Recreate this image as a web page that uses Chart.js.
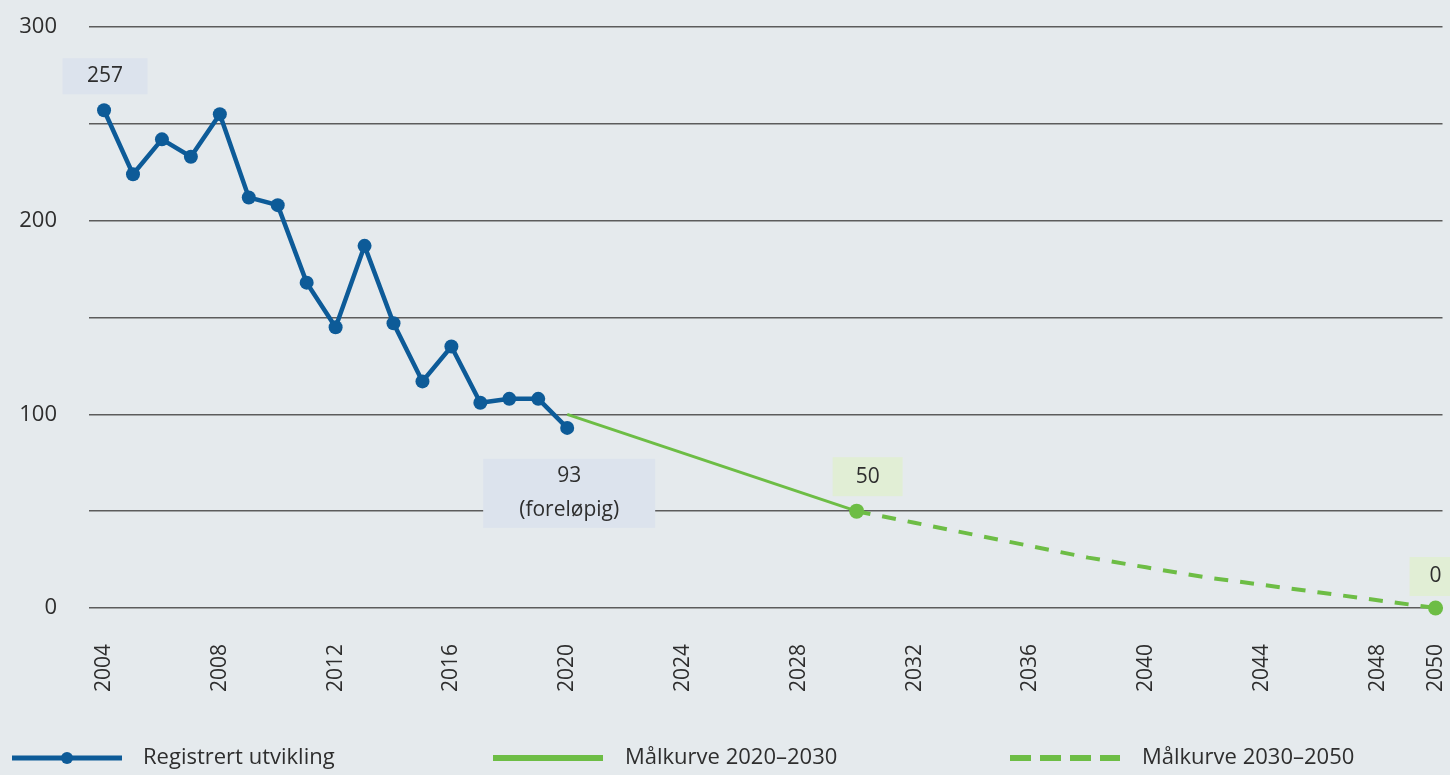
<!DOCTYPE html>
<html lang="no">
<head>
    <meta charset="UTF-8">
    <title>Registrert utvikling og målkurve</title>
    <script src="https://cdn.jsdelivr.net/npm/chart.js"></script>
    <style>
        body {
            margin: 0;
            padding: 0;
            background: #e5eaed;
        }
        .wrap {
            position: relative;
            width: 1450px;
            height: 775px;
        }
    </style>
</head>
<body>

<div class="wrap">
    <canvas id="myChart" width="1450" height="775"></canvas>
</div>

<script>
    // Registrert utvikling
    const years = [2004, 2005, 2006, 2007, 2008, 2009, 2010, 2011, 2012, 2013, 2014, 2015, 2016, 2017, 2018, 2019, 2020];
    const registered = [257, 224, 242, 233, 255, 212, 208, 168, 145, 187, 147, 117, 135, 106, 108, 108, 93];

    // Målkurve 2020-2030
    const targetYears1 = [2020, 2030];
    const targetValues1 = [100, 50];

    // Målkurve 2030-2050
    const targetYears2 = [2030, 2032, 2034, 2036, 2038, 2040, 2042, 2044, 2046, 2048, 2050];
    const targetValues2 = [50, 44, 38, 32, 26, 21, 16, 12, 8, 4, 0];

    const xTicks = [2004, 2008, 2012, 2016, 2020, 2024, 2028, 2032, 2036, 2040, 2044, 2048, 2050];
    const yTicks = [0, 100, 200, 300];

    const blue = '#0d5b98';
    const green = '#6dbd45';
    const textColor = '#2e2e2e';
    const font = "'Open Sans', sans-serif";

    const toXY = (xs, ys) => xs.map((x, i) => ({ x: x, y: ys[i] }));

    // Boxed value labels
    const valueLabels = {
        id: 'valueLabels',
        afterDatasetsDraw(chart) {
            const c = chart.ctx;
            const labels = [
                { ds: 0, idx: 0, lines: ['257'], bg: '#dce3ed', dx: 1, top: -52, w: 85, h: 36 },
                { ds: 0, idx: registered.length - 1, lines: ['93', '(foreløpig)'], bg: '#dce3ed', dx: 2, top: 31, w: 172, h: 69 },
                { ds: 1, idx: 1, lines: ['50'], bg: '#e1eed5', dx: 11, top: -54, w: 70, h: 39 },
                { ds: 2, idx: targetValues2.length - 1, lines: ['0'], bg: '#e1eed5', dx: 0, top: -51, w: 52, h: 39 }
            ];
            c.save();
            labels.forEach(l => {
                const p = chart.getDatasetMeta(l.ds).data[l.idx];
                const cx = p.x + l.dx;
                const y0 = p.y + l.top;
                c.fillStyle = l.bg;
                c.fillRect(cx - l.w / 2, y0, l.w, l.h);
                c.fillStyle = textColor;
                c.font = '21px ' + font;
                c.textAlign = 'center';
                c.textBaseline = 'middle';
                const lh = 34;
                const start = y0 + l.h / 2 - (l.lines.length - 1) * lh / 2;
                l.lines.forEach((t, i) => c.fillText(t, cx, start + i * lh));
            });
            c.restore();
        }
    };

    // Legend along the bottom
    const bottomLegend = {
        id: 'bottomLegend',
        afterDraw(chart) {
            const c = chart.ctx;
            const y = 758;
            c.save();
            c.lineCap = 'butt';

            c.strokeStyle = blue;
            c.lineWidth = 5;
            c.beginPath(); c.moveTo(12, y); c.lineTo(122, y); c.stroke();
            c.fillStyle = blue;
            c.beginPath(); c.arc(67, y, 6, 0, Math.PI * 2); c.fill();

            c.strokeStyle = green;
            c.lineWidth = 6;
            c.beginPath(); c.moveTo(493, y); c.lineTo(603, y); c.stroke();

            c.setLineDash([21, 9]);
            c.beginPath(); c.moveTo(1010, y); c.lineTo(1120, y); c.stroke();
            c.setLineDash([]);

            c.fillStyle = textColor;
            c.font = '22px ' + font;
            c.textAlign = 'left';
            c.textBaseline = 'middle';
            c.fillText('Registrert utvikling', 143, y);
            c.fillText('Målkurve 2020–2030', 625, y);
            c.fillText('Målkurve 2030–2050', 1142, y);
            c.restore();
        }
    };

    const ctx = document.getElementById('myChart').getContext('2d');
    const myChart = new Chart(ctx, {
        type: 'line',
        data: {
            datasets: [{
                label: 'Registrert utvikling',
                data: toXY(years, registered),
                borderColor: blue,
                backgroundColor: blue,
                borderWidth: 4.5,
                pointRadius: 7,
                pointBackgroundColor: blue,
                pointBorderWidth: 0,
                tension: 0,
                clip: false
            }, {
                label: 'Målkurve 2020–2030',
                data: toXY(targetYears1, targetValues1),
                borderColor: green,
                backgroundColor: green,
                borderWidth: 3,
                pointRadius: [0, 7.5],
                pointBorderWidth: 0,
                tension: 0,
                clip: false
            }, {
                label: 'Målkurve 2030–2050',
                data: toXY(targetYears2, targetValues2),
                borderColor: green,
                backgroundColor: green,
                borderWidth: 4,
                borderDash: [14, 12],
                pointRadius: targetValues2.map((v, i) => i === targetValues2.length - 1 ? 7.5 : 0),
                pointBorderWidth: 0,
                tension: 0,
                clip: false
            }]
        },
        options: {
            responsive: false,
            animation: false,
            events: [],
            layout: { padding: { top: 27, right: 0, bottom: 0, left: 0 } },
            plugins: {
                legend: { display: false },
                tooltip: { enabled: false }
            },
            scales: {
                x: {
                    type: 'linear',
                    min: 2003.48,
                    max: 2050.24,
                    afterBuildTicks: s => { s.ticks = xTicks.map(v => ({ value: v })); },
                    afterFit: s => { s.height = 167; s.paddingLeft = 0; s.paddingRight = 0; },
                    grid: { display: false },
                    border: { display: false },
                    ticks: {
                        minRotation: 90,
                        maxRotation: 90,
                        padding: 28,
                        color: textColor,
                        font: { family: font, size: 21 },
                        callback: v => String(v)
                    }
                },
                y: {
                    min: 0,
                    max: 300,
                    afterBuildTicks: s => {
                        const t = [];
                        for (let v = 0; v <= 300; v += 50) t.push({ value: v });
                        s.ticks = t;
                    },
                    afterFit: s => { s.width = 89; s.paddingTop = 0; s.paddingBottom = 0; },
                    grid: { color: '#5c5c5c', lineWidth: 1.5, drawTicks: false },
                    border: { display: false },
                    ticks: {
                        padding: 32,
                        color: textColor,
                        font: { family: font, size: 22 },
                        callback: v => yTicks.includes(v) ? String(v) : ''
                    }
                }
            }
        },
        plugins: [valueLabels, bottomLegend]
    });
</script>

</body>
</html>
